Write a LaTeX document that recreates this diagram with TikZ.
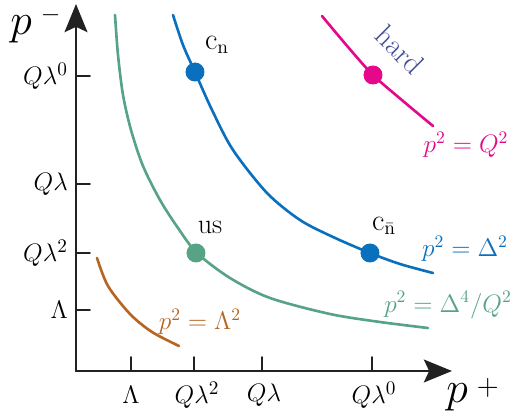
\documentclass[tikz,border=0pt]{standalone}
\usetikzlibrary{arrows.meta}
\definecolor{qqbbcc}{rgb}{0.04,0.44,0.74}
\definecolor{ttaaff}{rgb}{0.34,0.64,0.52}
\definecolor{eeqqaa}{rgb}{0.90,0.03,0.54}
\definecolor{bbggqq}{rgb}{0.71,0.40,0.13}
\definecolor{ddeeqq}{rgb}{0.27,0.31,0.60}
\definecolor{ttwwtt}{rgb}{0.13,0.13,0.13}
\begin{document}
\begin{tikzpicture}[x=0.02cm,y=-0.02cm,line cap=round,line join=round]
  \useasboundingbox (0,0) rectangle (512,419);
  % axes
  \coordinate (O) at (76,371);
  \coordinate (ytip) at (76,4);
  \coordinate (xtip) at (452,371);
  \draw[line width=1.3pt,color=ttwwtt,-{Stealth[length=16pt,width=13pt,inset=3pt]}] (O)--(ytip);
  \draw[line width=1.3pt,color=ttwwtt,-{Stealth[length=16pt,width=13pt,inset=3pt]}] (O)--(xtip);
  \node[anchor=base west,inner sep=0pt] (pminus) at (10,34) {\fontsize{31}{31}\selectfont$p$\,\raisebox{7pt}{\fontsize{15}{15}\selectfont$-$}};
  \node[anchor=base west,inner sep=0pt] (pplus) at (446,403) {\fontsize{31}{31}\selectfont$p$\,\raisebox{4.5pt}{\fontsize{17}{17}\selectfont$+$}};
  % ticks on p-
  \draw[line width=1.1pt,color=ttwwtt] (76,76)--(90,76);
  \draw[line width=1.1pt,color=ttwwtt] (76,184)--(90,184);
  \draw[line width=1.1pt,color=ttwwtt] (76,253)--(90,253);
  \draw[line width=1.1pt,color=ttwwtt] (76,310)--(90,310);
  \node[anchor=east,font=\fontsize{15}{18}\selectfont] (yQz) at (74,76) {$Q\lambda^0$};
  \node[anchor=east,font=\fontsize{15}{18}\selectfont] (yQl) at (74,184) {$Q\lambda$};
  \node[anchor=east,font=\fontsize{15}{18}\selectfont] (yQll) at (74,253) {$Q\lambda^2$};
  \node[anchor=east,font=\fontsize{15}{18}\selectfont] (yL) at (74,310) {$\Lambda$};
  % ticks on p+
  \draw[line width=1.1pt,color=ttwwtt] (131,371)--(131,357);
  \draw[line width=1.1pt,color=ttwwtt] (194,371)--(194,357);
  \draw[line width=1.1pt,color=ttwwtt] (262,371)--(262,357);
  \draw[line width=1.1pt,color=ttwwtt] (372,371)--(372,357);
  \node[font=\fontsize{15}{18}\selectfont] (xL) at (131,395) {$\Lambda$};
  \node[font=\fontsize{15}{18}\selectfont] (xQll) at (197,395) {$Q\lambda^2$};
  \node[font=\fontsize{15}{18}\selectfont] (xQl) at (264,395) {$Q\lambda$};
  \node[font=\fontsize{15}{18}\selectfont] (xQz) at (374,395) {$Q\lambda^0$};
  % curves
  \draw[line width=1.5pt,color=ttaaff] plot[smooth] coordinates {(115,15) (118,55) (123,95) (131,130) (143,166) (160,200) (178,228) (197,253) (230,278) (270,298) (330,314) (380,322) (428,328)};
  \draw[line width=1.5pt,color=qqbbcc] plot[smooth] coordinates {(173,15) (183,45) (195,72) (212,110) (233,150) (267,193) (300,220) (333,237) (370,253) (400,264) (433,273)};
  \draw[line width=1.5pt,color=eeqqaa] plot[smooth] coordinates {(322,16) (348,47) (373,75) (403,101) (433,126)};
  \draw[line width=1.5pt,color=bbggqq] plot[smooth] coordinates {(97,258) (108,286) (130,314) (152,332) (179,346)};
  % points
  \coordinate (cn) at (195,72);
  \coordinate (us) at (196,253);
  \coordinate (cnb) at (370,253);
  \coordinate (hard) at (373,75);
  \fill[color=qqbbcc] (cn) circle (9.5);
  \fill[color=ttaaff] (us) circle (9.5);
  \fill[color=qqbbcc] (cnb) circle (9.5);
  \fill[color=eeqqaa] (hard) circle (9.5);
  \node[font=\fontsize{16}{18}\selectfont] (lcn) at (217,45) {$\mathrm{c}_{\mathrm{n}}$};
  \node[font=\fontsize{16}{18}\selectfont] (lus) at (210,227) {us};
  \node[font=\fontsize{16}{18}\selectfont] (lcnb) at (384,226) {$\mathrm{c}_{\bar{\mathrm{n}}}$};
  \node[font=\fontsize{17}{18}\selectfont,color=ddeeqq,rotate=-45,inner sep=0pt] (lhard) at (400,50) {hard};
  % equations
  \node[font=\fontsize{14}{16}\selectfont,color=eeqqaa] (eQ) at (466,145) {$p^2=Q^2$};
  \node[font=\fontsize{14}{16}\selectfont,color=qqbbcc] (eD) at (465,249) {$p^2=\Delta^2$};
  \node[font=\fontsize{14}{16}\selectfont,color=ttaaff] (eDQ) at (448,305) {$p^2=\Delta^4/Q^2$};
  \node[font=\fontsize{14}{16}\selectfont,color=bbggqq] (eL) at (200,322) {$p^2=\Lambda^2$};
\end{tikzpicture}
\end{document}
